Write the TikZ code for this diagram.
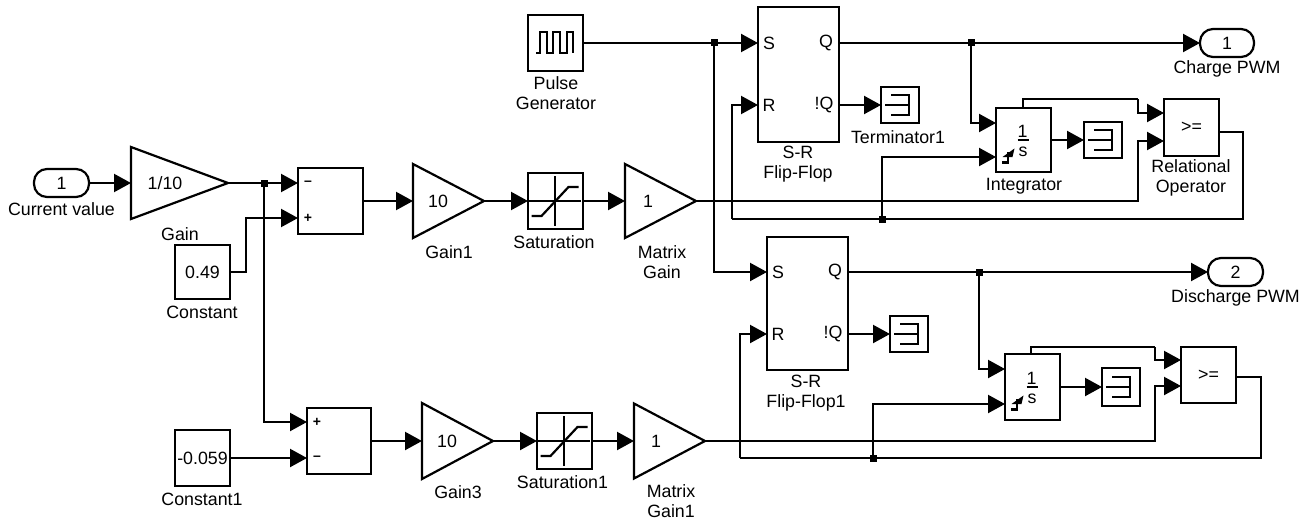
\documentclass[tikz,border=0pt]{standalone}
\usepackage{fontspec}
\setmainfont{Liberation Sans}
\usetikzlibrary{arrows.meta, shapes.geometric}
\tikzset{
  wire/.style={line width=2.2pt},
  sig/.style={line width=2.2pt,-{Triangle[length=17pt,width=18pt]}},
  blk/.style={draw,line width=2.2pt,rectangle,inner sep=0pt,outer sep=0pt},
  gainblk/.style={draw,line width=2.2pt,isosceles triangle,isosceles triangle stretches,inner sep=0pt,outer sep=0pt,anchor=lower side},
  portblk/.style={draw,line width=2.2pt,rectangle,rounded corners=13pt,minimum width=55,minimum height=28,inner sep=0pt,outer sep=0pt},
  dot/.style={fill,rectangle,minimum size=7,inner sep=0pt,outer sep=0pt},
  txt/.style={inner sep=0pt,align=center},
  sgn/.style={inner sep=0pt,font=\bfseries\fontsize{14}{20}\selectfont},
}
\begin{document}
\begin{tikzpicture}[x=1pt,y=-1pt,font=\fontsize{17.8}{20}\selectfont]
    \useasboundingbox (0,0) rectangle (1301,519);
    % blocks, upper branch
    \node[portblk] (pin) at (61.5,183) {1};
    \node[gainblk,minimum height=97,minimum width=72] (gain) at (131,183) {};
    \node[blk,minimum width=65,minimum height=66] (sum1) at (330.5,201) {};
    \node[blk,minimum width=55,minimum height=54] (const) at (202.5,272) {0.49};
    \node[gainblk,minimum height=71,minimum width=74] (gain1) at (413,201) {};
    \node[blk,minimum width=55,minimum height=56] (sat) at (555.5,201) {};
    \node[gainblk,minimum height=71,minimum width=74] (mgain) at (625,201) {};
    \node[blk,minimum width=55,minimum height=56] (pulse) at (555.5,43) {};
    \node[blk,minimum width=81,minimum height=135] (sr1) at (798.5,74.5) {};
    \node[blk,minimum width=38,minimum height=36] (term1) at (900,105) {};
    \node[blk,minimum width=55,minimum height=64] (int1) at (1023.5,140) {};
    \node[blk,minimum width=38,minimum height=36] (term2) at (1103,140) {};
    \node[blk,minimum width=55,minimum height=57] (rel1) at (1191.5,127.5) {>=};
    \node[portblk,minimum width=54] (out1) at (1227,43) {1};
    % blocks, lower branch
    \node[blk,minimum width=64,minimum height=66] (sum2) at (339,441) {};
    \node[blk,minimum width=55,minimum height=56] (const1) at (202.5,458) {-0.059};
    \node[gainblk,minimum height=71,minimum width=76] (gain3) at (422,441) {};
    \node[blk,minimum width=55,minimum height=56] (sat1) at (564.5,441) {};
    \node[gainblk,minimum height=71,minimum width=75] (mgain1) at (634,441) {};
    \node[blk,minimum width=81,minimum height=133] (sr2) at (807.5,303.5) {};
    \node[blk,minimum width=38,minimum height=36] (term3) at (909,334) {};
    \node[blk,minimum width=55,minimum height=66] (int2) at (1032.5,387) {};
    \node[blk,minimum width=38,minimum height=38] (term4) at (1121,387) {};
    \node[blk,minimum width=55,minimum height=56] (rel2) at (1208.5,375) {>=};
    \node[portblk] (out2) at (1235.5,272) {2};
    % texts inside blocks
    \node[txt] (gainv) at (165,183) {1/10};
    \node[txt] (gain1v) at (438,201) {10};
    \node[txt] (mgainv) at (648,201) {1};
    \node[txt] (gain3v) at (447,441) {10};
    \node[txt] (mgain1v) at (656,441) {1};
    \node[sgn] (sum1m) at (308,183) {--};
    \node[sgn] (sum1p) at (308,218) {+};
    \node[sgn] (sum2p) at (317,422) {+};
    \node[sgn] (sum2m) at (317,458) {--};
    \node[txt] (sr1s) at (769,43) {S};
    \node[txt] (sr1r) at (769,105) {R};
    \node[txt] (sr1q) at (826,43) {Q};
    \node[txt] (sr1n) at (824,105) {!Q};
    \node[txt] (sr2s) at (778,272) {S};
    \node[txt] (sr2r) at (778,334) {R};
    \node[txt] (sr2q) at (835,272) {Q};
    \node[txt] (sr2n) at (833,334) {!Q};
    \node[txt] (int1n) at (1022.5,131) {1};
    \node[txt] (int1d) at (1023,152) {s};
    \node[txt] (int2n) at (1031.5,378) {1};
    \node[txt] (int2d) at (1032,399) {s};
    % labels
    \node[txt] (lblpin) at (61.5,209) {Current value};
    \node[txt] (lblgain) at (180,234) {Gain};
    \node[txt] (lblconst) at (202,312) {Constant};
    \node[txt] (lblgain1) at (449,252) {Gain1};
    \node[txt] (lblsat) at (554,242) {Saturation};
    \node[txt] (lblmgain) at (662,262) {Matrix\\Gain};
    \node[txt] (lblpulse) at (556,93) {Pulse\\Generator};
    \node[txt] (lblsr1) at (798,164) {S-R\\Flip-Flop};
    \node[txt] (lblterm1) at (898,137) {Terminator1};
    \node[txt] (lblint1) at (1024,186) {Integrator};
    \node[txt] (lblrel1) at (1191,178) {Relational\\Operator};
    \node[txt] (lblout1) at (1227,69) {Charge PWM};
    \node[txt] (lblout2) at (1235.5,298) {Discharge PWM};
    \node[txt] (lblsr2) at (806,393) {S-R\\Flip-Flop1};
    \node[txt] (lblconst1) at (202,499) {Constant1};
    \node[txt] (lblgain3) at (458,492) {Gain3};
    \node[txt] (lblsat1) at (562.5,482) {Saturation1};
    \node[txt] (lblmgain1) at (671,501) {Matrix\\Gain1};
    % icons
    \draw[wire] (536,53) -- (540,53) -- (540,32) -- (547,32) -- (547,53) -- (553,53) -- (553,32) -- (560,32) -- (560,53) -- (567,53) -- (567,32) -- (573,32) -- (573,53);
    \foreach \nm in {sat,sat1} {
        \begin{scope}[shift={(\nm.center)}]
            \draw[wire] (-27,0) -- (25,0);
            \draw[wire] (-0.5,-25) -- (-0.5,25);
            \draw[wire] (-24,15) -- (-14,15) -- (13,-14) -- (23,-14);
        \end{scope}
    }
    \foreach \nm in {term1,term2,term3,term4} {
        \begin{scope}[shift={(\nm.center)}]
            \draw[wire] (-15,0) -- (9,0);
            \draw[wire] (-9,-10) -- (9,-10) -- (9,10) -- (-9,10);
        \end{scope}
    }
    \foreach \nm in {int1,int2} {
        \begin{scope}[shift={(\nm.center)}]
            \draw[wire] (-6,0) -- (5,0);
            \draw[line width=2.4pt] (-21.5,22.5) -- (-15.5,22.5) -- (-15.5,12);
            \fill (-9,8.5) -- (-21,17) -- (-11,17) -- cycle;
        \end{scope}
    }
    % junctions and ports
    \node[dot] (j1) at (264,183) {};
    \node[dot] (j2) at (714,43) {};
    \node[dot] (j3) at (971,43) {};
    \node[dot] (j4) at (882,219) {};
    \node[dot] (j5) at (979,272) {};
    \node[dot] (j6) at (873,458) {};
    \coordinate (s1m) at (298,183);
    \coordinate (s1p) at (298,218);
    \coordinate (bc) at (246,272);
    \coordinate (s2p) at (307,422);
    \coordinate (s2m) at (307,458);
    \coordinate (r1S) at (758,43);
    \coordinate (r1R) at (758,105);
    \coordinate (q1) at (839,43);
    \coordinate (n1) at (839,105);
    \coordinate (r2S) at (767,272);
    \coordinate (r2R) at (767,334);
    \coordinate (q2) at (848,272);
    \coordinate (n2) at (848,334);
    \coordinate (i1a) at (996,123);
    \coordinate (i1b) at (996,157);
    \coordinate (i1s) at (1023,108);
    \coordinate (i2a) at (1005,369);
    \coordinate (i2b) at (1005,404);
    \coordinate (i2s) at (1031,354);
    \coordinate (o1a) at (1164,113);
    \coordinate (o1b) at (1164,141);
    \coordinate (o1o) at (1219,132);
    \coordinate (o2a) at (1181,360);
    \coordinate (o2b) at (1181,386);
    \coordinate (o2o) at (1236,377);
    \coordinate (t1) at (1138,99);
    \coordinate (t2) at (1155,347);
    \coordinate (m1) at (1138,201);
    \coordinate (m2) at (1155,441);
    \coordinate (f1) at (1243,219);
    \coordinate (f2) at (732,219);
    \coordinate (f3) at (1261,458);
    \coordinate (f4) at (740,458);
    % upper branch wires
    \draw[sig] (pin) -- (gain.lower side);
    \draw[wire] (gain.apex) -- (j1.center);
    \draw[sig] (j1.center) -- (s1m);
    \draw[sig] (const.east) -- (bc) |- (s1p);
    \draw[sig] (sum1.east) -- (gain1.lower side);
    \draw[sig] (gain1.apex) -- (sat.west);
    \draw[sig] (sat.east) -- (mgain.lower side);
    \draw[sig] (mgain.apex) -- (m1) |- (o1b);
    \draw[wire] (pulse.east) -- (j2.center);
    \draw[sig] (j2.center) -- (r1S);
    \draw[sig] (j2.center) |- (r2S);
    \draw[wire] (q1) -- (j3.center);
    \draw[sig] (j3.center) -- (out1.west);
    \draw[sig] (j3.center) |- (i1a);
    \draw[sig] (n1) -- (term1.west);
    \draw[sig] (int1.east) -- (term2.west);
    \draw[wire] (i1s) |- (t1);
    \draw[sig] (t1) |- (o1a);
    \draw[wire] (o1o) -| (f1) -- (f2);
    \draw[sig] (f2) |- (r1R);
    \draw[sig] (j4.center) |- (i1b);
    % lower branch wires
    \draw[sig] (j1.center) |- (s2p);
    \draw[sig] (const1.east) -- (s2m);
    \draw[sig] (sum2.east) -- (gain3.lower side);
    \draw[sig] (gain3.apex) -- (sat1.west);
    \draw[sig] (sat1.east) -- (mgain1.lower side);
    \draw[sig] (mgain1.apex) -- (m2) |- (o2b);
    \draw[wire] (q2) -- (j5.center);
    \draw[sig] (j5.center) -- (out2.west);
    \draw[sig] (j5.center) |- (i2a);
    \draw[sig] (n2) -- (term3.west);
    \draw[sig] (int2.east) -- (term4.west);
    \draw[wire] (i2s) |- (t2);
    \draw[sig] (t2) |- (o2a);
    \draw[wire] (o2o) -| (f3) -- (f4);
    \draw[sig] (f4) |- (r2R);
    \draw[sig] (j6.center) |- (i2b);
\end{tikzpicture}
\end{document}
